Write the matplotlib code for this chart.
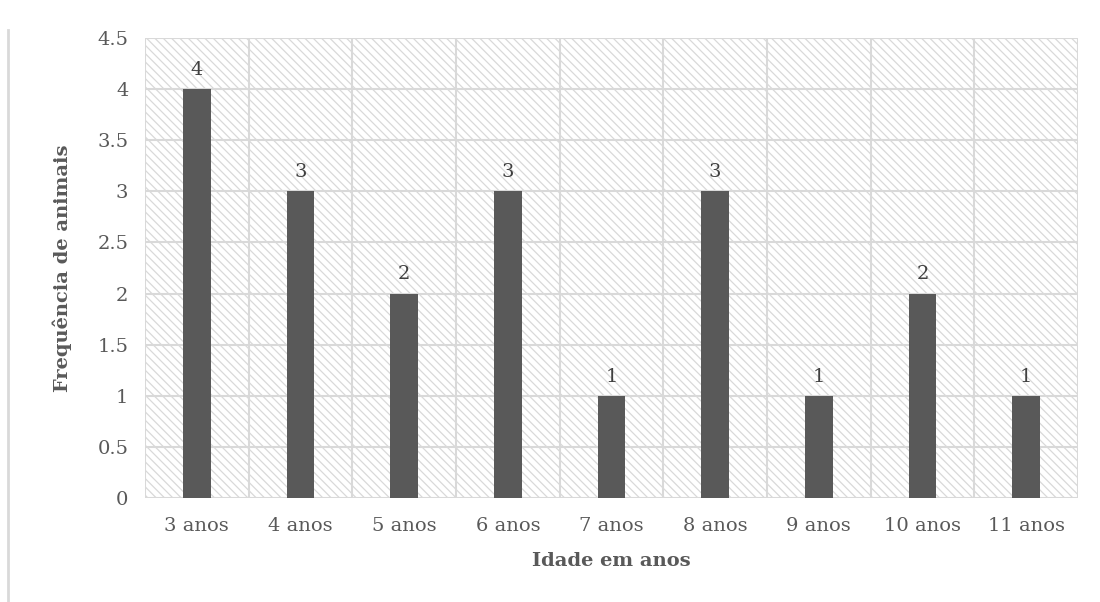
import matplotlib
matplotlib.use("Agg")
import matplotlib.pyplot as plt
from matplotlib.lines import Line2D
from matplotlib.patches import Rectangle
import numpy as np

categorias = ["3 anos", "4 anos", "5 anos", "6 anos", "7 anos",
              "8 anos", "9 anos", "10 anos", "11 anos"]
frequencias = [4, 3, 2, 3, 1, 3, 1, 2, 1]
yticks = [0, 0.5, 1, 1.5, 2, 2.5, 3, 3.5, 4, 4.5]
ytick_labels = ["0", "0.5", "1", "1.5", "2", "2.5", "3", "3.5", "4", "4.5"]

BAR = "#595959"
GRID = "#d9d9d9"
TXT = "#595959"

plt.rcParams["font.family"] = ["DejaVu Serif"]
plt.rcParams["hatch.color"] = GRID
plt.rcParams["hatch.linewidth"] = 0.9

fig = plt.figure(figsize=(11, 6.02), dpi=100)
ax = fig.add_axes([145 / 1100, 1 - 498 / 602, 933 / 1100, 460 / 602])

x = np.arange(len(categorias))
ax.set_xlim(-0.5, len(categorias) - 0.5)
ax.set_ylim(0, 4.5)

# hatched plot-area background
ax.add_patch(Rectangle((0, 0), 1, 1, transform=ax.transAxes, facecolor="white",
                       edgecolor=GRID, hatch="\\\\\\\\", linewidth=0, zorder=0))

for y in yticks:
    ax.axhline(y, color=GRID, linewidth=1.5, zorder=1)
for b in np.arange(-0.5, len(categorias), 1.0):
    ax.axvline(b, color=GRID, linewidth=1.5, zorder=1)

bars = ax.bar(x, frequencias, width=0.27, color=BAR, zorder=3)
for xi, v in zip(x, frequencias):
    ax.text(xi, v + 0.1, str(v), ha="center", va="bottom", fontsize=14,
            color="#404040", zorder=4)

for s in ax.spines.values():
    s.set_visible(False)

ax.set_xticks(x)
ax.set_xticklabels(categorias)
ax.set_yticks(yticks)
ax.set_yticklabels(ytick_labels)
ax.tick_params(length=0, labelsize=14, labelcolor=TXT)
ax.tick_params(axis="x", pad=14)
ax.tick_params(axis="y", pad=12)

ax.set_xlabel("Idade em anos", fontsize=14, fontweight="bold", color=TXT, labelpad=12)
ax.set_ylabel("Frequência de animais", fontsize=14, fontweight="bold", color=TXT, labelpad=18)

# thin frame line on the left edge
fig.add_artist(Line2D([8 / 1100, 8 / 1100], [0, 1 - 30 / 602],
                      transform=fig.transFigure, color=GRID, linewidth=2))

fig.savefig("out.png", dpi=100, facecolor="white")
